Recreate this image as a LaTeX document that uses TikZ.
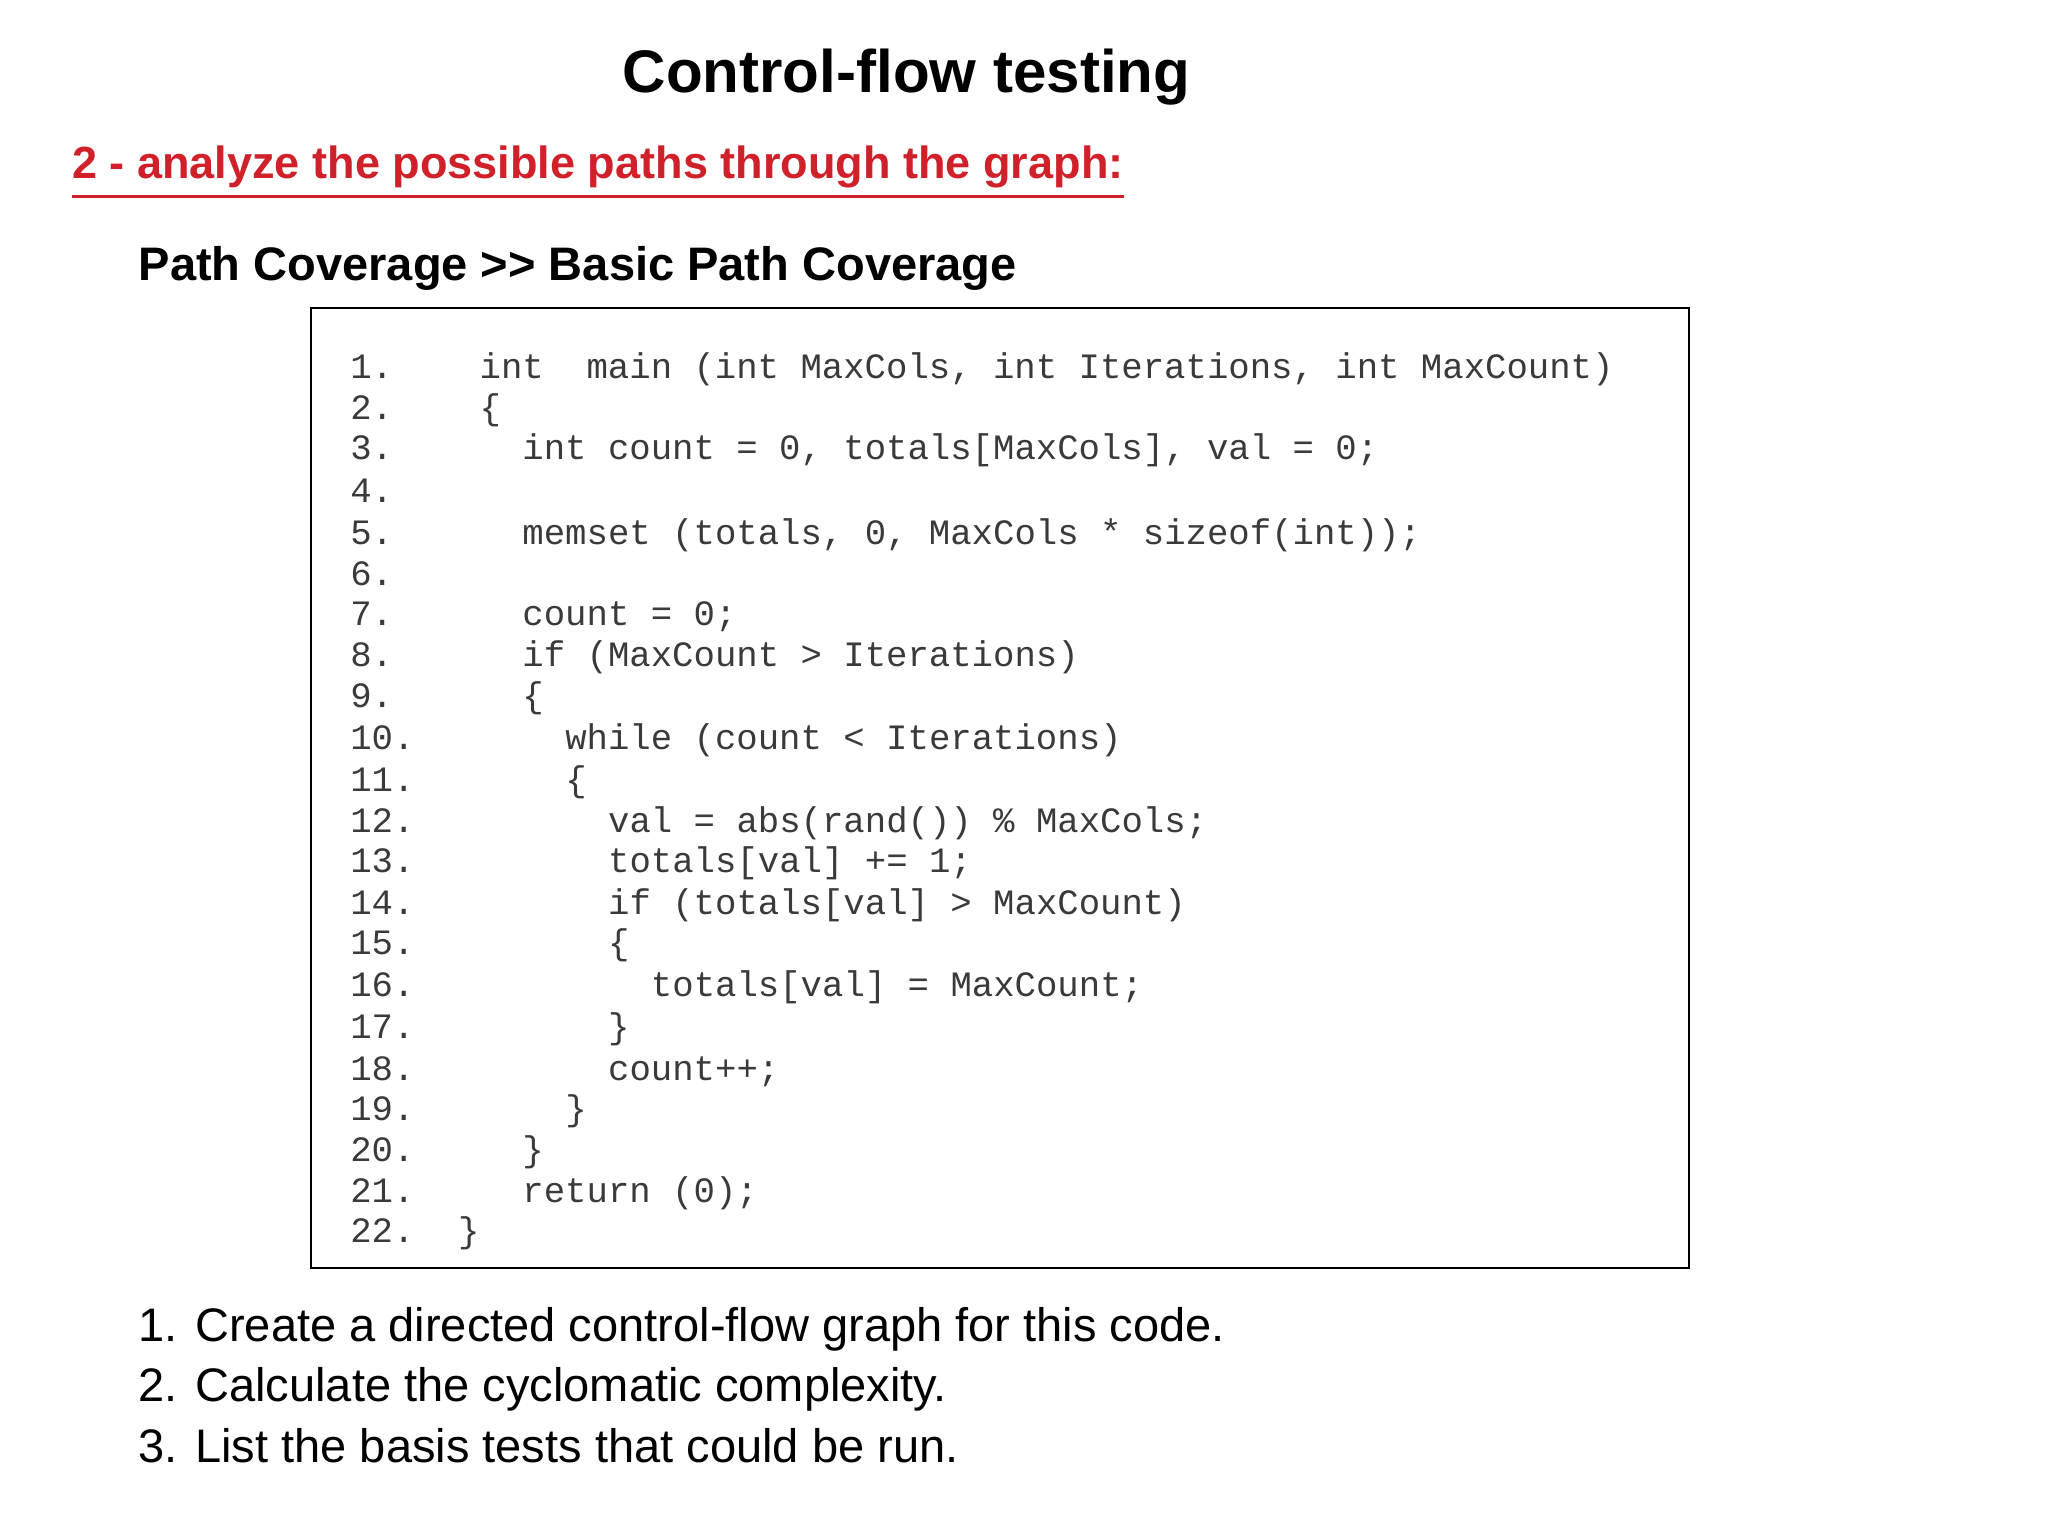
\documentclass[tikz,border=0pt]{standalone}
\usepackage{fontspec}
\setmainfont{Liberation Sans}
\setmonofont{Liberation Mono}
\definecolor{redt}{HTML}{D0202A}
\definecolor{codec}{HTML}{3A3A3A}
\begin{document}
\begin{tikzpicture}[x=1pt,y=-1pt,
  code/.style={anchor=base west,inner sep=0pt,font=\fontsize{27.3}{30}\ttfamily,text=codec}]
\useasboundingbox[fill=white] (0,0) rectangle (1568,1176);
\node[anchor=base,inner sep=0pt,font=\fontsize{46}{50}\bfseries] (title) at (694,71) {Control-flow testing};
\node[anchor=base west,inner sep=0pt,font=\fontsize{34.5}{40}\bfseries,text=redt] (sub) at (55,137) {2 - analyze the possible paths through the graph:};
\draw[redt,line width=2.5pt] (sub.south west)++(0,6) -- ([yshift=-6pt]sub.south east);
\node[anchor=base west,inner sep=0pt,font=\fontsize{36}{40}\bfseries] (pc) at (106,215) {Path Coverage >{}> Basic Path Coverage};
\draw[line width=1.8pt] (238,236) rectangle (1293,971);
\foreach \n/\y/\ind/\t in {
 1/281/0/{int\ \ main (int MaxCols, int Iterations, int MaxCount)},
 2/312/0/{\{},
 3/343/2/{int count = 0, totals[MaxCols], val = 0;},
 4/376/0/{},
 5/408/2/{memset (totals, 0, MaxCols * sizeof(int));},
 6/439/0/{},
 7/470/2/{count = 0;},
 8/501/2/{if (MaxCount > Iterations)},
 9/533/2/{\{},
 10/565/4/{while (count < Iterations)},
 11/597/4/{\{},
 12/628/6/{val = abs(rand()) \% MaxCols;},
 13/659/6/{totals[val] += 1;},
 14/691/6/{if (totals[val] > MaxCount)},
 15/722/6/{\{},
 16/754/8/{totals[val] = MaxCount;},
 17/786/6/{\}},
 18/818/6/{count++;},
 19/849/4/{\}},
 20/880/2/{\}},
 21/912/2/{return (0);},
 22/942/-1/{\}}}{
  \node[code] (n\n) at (268,\y+9) {\n.};
  \node[code] (c\n) at (367+\ind*16.4,\y+9) {\t};
}
\foreach \i/\y/\t in {1/1027/{1. Create a directed control-flow graph for this code.},
 2/1073/{2. Calculate the cyclomatic complexity.},
 3/1120/{3. List the basis tests that could be run.}}{
  \node[anchor=base west,inner sep=0pt,font=\fontsize{36}{40}\selectfont] (l\i) at (106,\y) {\t};
}
\end{tikzpicture}
\end{document}
